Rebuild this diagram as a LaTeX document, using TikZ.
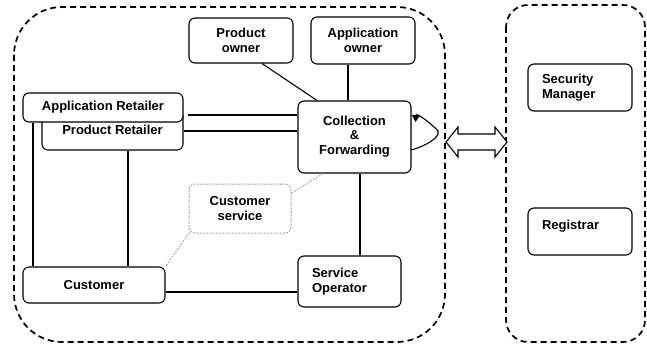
\documentclass[tikz,border=0pt]{standalone}
\usepackage{fontspec}
\setmainfont{Liberation Sans}
\usetikzlibrary{arrows.meta,calc}
\begin{document}
\begin{tikzpicture}[x=1pt,y=-1pt,
  box/.style={draw, line width=1.1pt, rounded corners=6pt, fill=white, inner sep=0pt, align=center,
    font=\fontsize{13}{14.5}\selectfont\bfseries},
  lbox/.style={box, align=left, inner xsep=14pt},
  csbox/.style={box, draw=gray!70, dash pattern=on 2pt off 1.2pt, line width=1pt},
  region/.style={draw, line width=1.7pt, dash pattern=on 6pt off 4pt},
  conn/.style={draw, line width=1.1pt},
  dconn/.style={draw=gray!70, line width=0.9pt, dash pattern=on 2pt off 1.2pt}]
\useasboundingbox (0,0) rectangle (647,345);
% regions
\draw[region, rounded corners=48pt] (14,7) rectangle (445,342);
\draw[region, rounded corners=22pt] (506,5) rectangle (645,342);
% nodes
\node[box, minimum width=104pt, minimum height=45pt] (po) at (241,40.5) {Product\\owner};
\node[box, minimum width=104pt, minimum height=47pt] (ao) at (363,40.5) {Application\\owner};
\node[box, minimum width=141pt, minimum height=40pt] (pr) at (112.5,130) {\raisebox{-6pt}{Product Retailer}};
\node[box, minimum width=160pt, minimum height=29pt] (ar) at (103,107.5) {Application Retailer};
\node[box, minimum width=113pt, minimum height=72pt] (cf) at (354.5,137) {\raisebox{3pt}{\begin{tabular}{@{}c@{}}Collection\\\&\\Forwarding\end{tabular}}};
\node[csbox, minimum width=102pt, minimum height=49pt] (cs) at (240,208.5) {Customer\\service};
\node[box, minimum width=142pt, minimum height=36pt] (cu) at (94,285) {Customer};
\node[lbox, text width=75pt, minimum height=51pt] (so) at (349.5,281.5) {Service\\Operator};
\node[lbox, text width=76pt, minimum height=47pt] (sm) at (580,87.5) {Security\\Manager};
\node[lbox, text width=76pt, minimum height=47pt, text height=9.5pt, text depth=13.5pt] (rg) at (580,231.5) {Registrar};
% connectors
\draw[conn] ([yshift=-7.5pt,xshift=4pt]ar.east) -- ([yshift=-7.5pt]ar.east -| cf.west);
\draw[conn] ([yshift=-1pt]pr.east) -- ([yshift=-1pt]pr.east -| cf.west);
\draw[conn] ([xshift=21pt]po.south) -- ([xshift=-37.5pt]cf.north);
\draw[conn] ([xshift=-15pt]ao.south) -- ([xshift=-15pt]ao.south |- cf.north);
\draw[conn] ([xshift=-70pt]ar.south) -- ([xshift=-70pt]ar.south |- cu.north);
\draw[conn] ([xshift=15.5pt]pr.south) -- ([xshift=15.5pt]pr.south |- cu.north);
\draw[conn] ([yshift=-7pt]cu.east) -- ([yshift=-7pt]cu.east -| so.west);
\draw[conn] ([xshift=5.5pt]cf.south) -- ([xshift=5.5pt]cf.south |- so.north);
\draw[dconn] ([xshift=-31.5pt]cf.south) -- ([yshift=15.5pt]cs.east);
\draw[dconn] ([xshift=1pt,yshift=1pt]cs.south west) -- (cu.north east);
% self loop
\coordinate (loopA) at ([yshift=-13pt]cf.east);
\coordinate (loopB) at ([xshift=4pt,yshift=15pt]cf.east);
\draw[conn, -{Triangle[width=8pt,length=7pt]}] (loopA) .. controls (425,146) and (440,138) .. (438,131)
  .. controls (432,124) and (416,112) .. (loopB);
% double hollow arrow
\draw[line width=1.1pt, fill=white, line join=miter] (446,142) -- (458,127) -- (458,134) -- (495,134) -- (495,127)
  -- (507,142) -- (495,157) -- (495,150) -- (458,150) -- (458,157) -- cycle;
\end{tikzpicture}
\end{document}
